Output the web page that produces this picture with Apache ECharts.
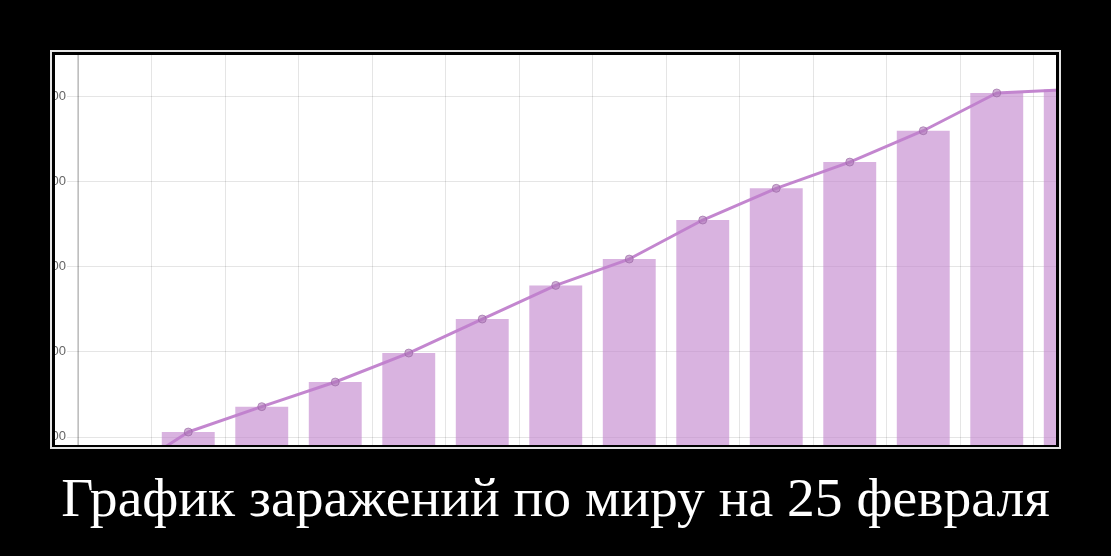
<!DOCTYPE html>
<html><head><meta charset="utf-8">
<script src="https://cdn.jsdelivr.net/npm/echarts@6/dist/echarts.min.js"></script>
<style>
html,body{margin:0;padding:0;background:#000;width:1111px;height:556px;overflow:hidden;}
#frame{position:absolute;left:50px;top:50px;width:1007px;height:395px;border:2px solid #e4e4e4;}
#clip{position:absolute;left:55px;top:55px;width:1001px;height:390px;overflow:hidden;background:#fff;}
#chart{position:absolute;left:-55px;top:-55px;width:1200px;height:600px;}
#caption{position:absolute;left:0;width:1111px;top:467px;text-align:center;color:#fff;font-family:"Liberation Serif","Times New Roman",serif;font-size:55.6px;line-height:60px;white-space:nowrap;}
</style>
</head><body>
<div id="frame"></div>
<div id="clip"><div id="chart"></div></div>
<div id="caption">График заражений по миру на 25 февраля</div>
<script>
const categories = ["12 фев","13 фев","14 фев","15 фев","16 фев","17 фев","18 фев","19 фев","20 фев","21 фев","22 фев","23 фев","24 фев","25 фев"];
const barValues = [14950, 20560, 23540, 26430, 29830, 33820, 37770, 40860, 45440, 49160, 52240, 55920, 60350, 60760];
const lineValues = [14950, 20560, 23540, 26430, 29830, 33820, 37770, 40860, 45440, 49160, 52240, 55920, 60350, 60760];
const yMin = 10000, yMax = 70000, yStep = 10000;

const chart = echarts.init(document.getElementById('chart'), null, {renderer:'canvas'});
chart.setOption({
  animation:false,
  backgroundColor:'#fff',
  grid:{left:78, top:10.75, width:1029, height:511.25, containLabel:false},
  xAxis:{
    type:'category', data:categories, boundaryGap:true,
    axisLine:{show:false}, axisTick:{show:false}, axisLabel:{show:false},
    splitLine:{show:true, interval:0, lineStyle:{color:'rgba(0,0,0,0.1)', width:1}}
  },
  yAxis:{
    type:'value', min:yMin, max:yMax, interval:yStep,
    axisLine:{show:true, lineStyle:{color:'rgba(0,0,0,0.22)', width:1.5}},
    axisTick:{show:true, length:11, lineStyle:{color:'rgba(0,0,0,0.1)'}},
    axisLabel:{show:true, margin:12, color:'#666', fontSize:13, fontFamily:'"Liberation Sans", Arial, sans-serif'},
    splitLine:{show:true, lineStyle:{color:'rgba(0,0,0,0.1)', width:1}}
  },
  series:[
    {type:'bar', data:barValues, barWidth:'72%',
     itemStyle:{color:'rgba(192,128,204,0.6)'}, z:2},
    {type:'line', data:lineValues, symbol:'circle', symbolSize:8,
     lineStyle:{color:'rgba(192,128,204,0.95)', width:3},
     itemStyle:{color:'rgba(175,120,185,0.6)', borderColor:'rgba(150,100,160,0.6)', borderWidth:1}, z:3}
  ]
});
</script>
</body></html>
